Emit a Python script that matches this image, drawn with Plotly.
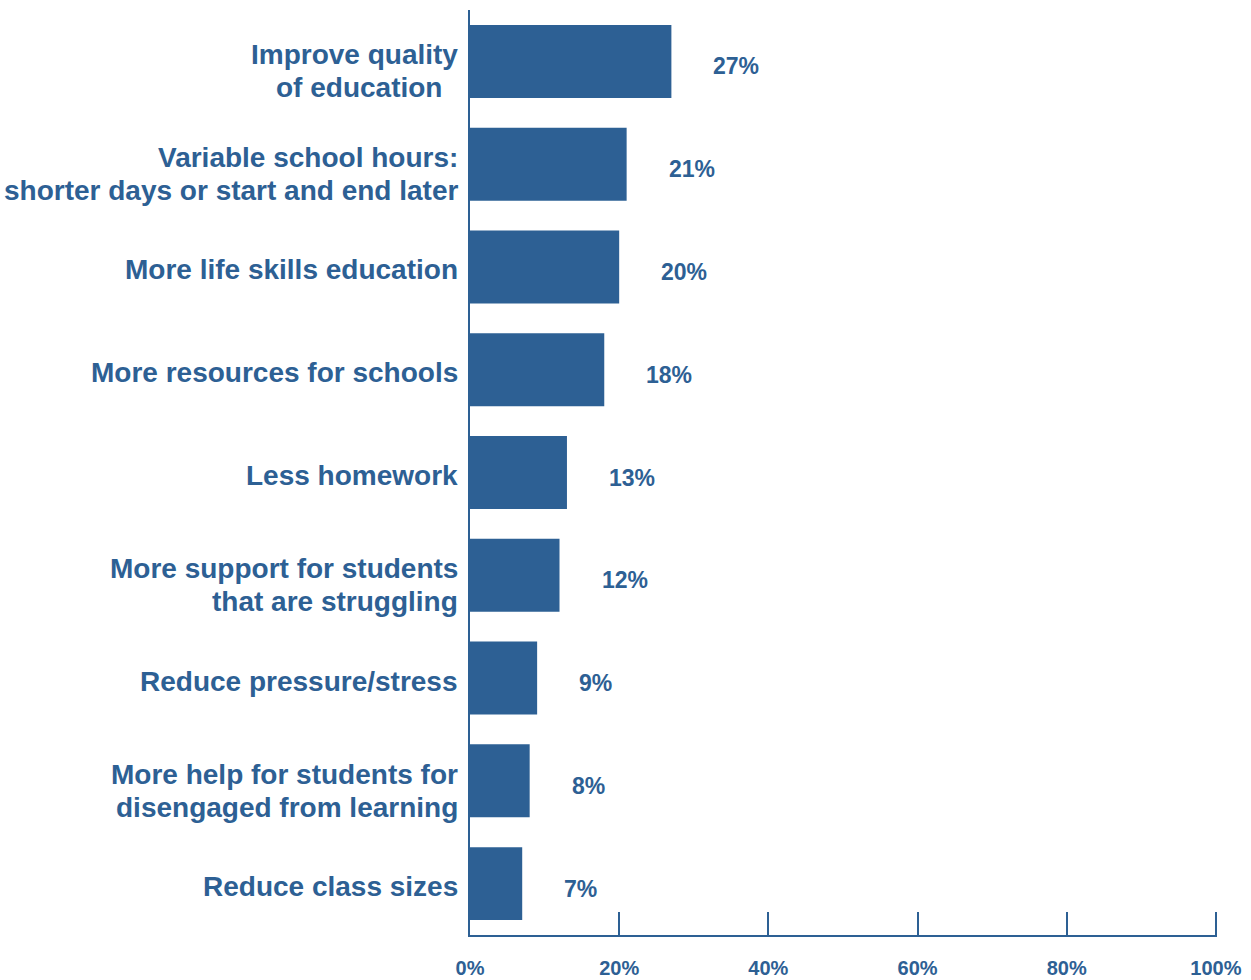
import plotly.graph_objects as go

categories = [
    "Improve quality<br>of education\u00a0\u00a0",
    "Variable school hours:<br>shorter days or start and end later",
    "More life skills education",
    "More resources for schools",
    "Less homework",
    "More support for students<br>that are struggling",
    "Reduce pressure/stress",
    "More help for students for<br>disengaged from learning",
    "Reduce class sizes",
]
values = [27, 21, 20, 18, 13, 12, 9, 8, 7]
tick_vals = [0, 20, 40, 60, 80, 100]
tick_text = ["0%", "20%", "40%", "60%", "80%", "100%"]

BLUE = "#2D6094"
FONT = "Liberation Sans, Arial, sans-serif"
LINE_GAP = 33  # px between lines of a wrapped category label

fig = go.Figure(
    go.Bar(
        x=values,
        y=categories,
        orientation="h",
        marker=dict(color=BLUE, line=dict(width=0)),
        hoverinfo="skip",
    )
)

# value labels to the right of each bar
for cat, val in zip(categories, values):
    fig.add_annotation(
        x=val, y=cat, text=f"<b>{val}%</b>", showarrow=False,
        xanchor="left", xshift=40, yshift=-5,
        font=dict(family=FONT, size=23, color=BLUE),
    )

# category labels, one annotation per line, right-aligned against the axis
for cat in categories:
    lines = cat.split("<br>")
    n = len(lines)
    base = -3 if n == 1 else -10
    for i, line in enumerate(lines):
        fig.add_annotation(
            x=0, xref="paper", y=cat, yref="y",
            text=f"<b>{line}</b>", showarrow=False,
            xanchor="right", yanchor="middle", xshift=-10,
            yshift=base + ((n - 1) / 2 - i) * LINE_GAP,
            font=dict(family=FONT, size=28, color=BLUE),
        )

fig.update_layout(
    width=1251, height=980,
    margin=dict(l=470, r=34, t=10, b=45, autoexpand=False),
    paper_bgcolor="white", plot_bgcolor="white",
    bargap=0.29,
    showlegend=False,
    font=dict(family=FONT, color=BLUE),
)
fig.update_xaxes(
    range=[0, 100.15], tickvals=tick_vals,
    ticktext=[f"<b>{t}</b>" for t in tick_text],
    ticks="inside", ticklen=23, tickwidth=2, tickcolor=BLUE,
    showline=True, linecolor=BLUE, linewidth=2,
    showgrid=False, zeroline=False, automargin=False,
    ticklabelstandoff=14,
    tickfont=dict(family=FONT, size=20, color=BLUE),
)
fig.update_yaxes(
    categoryorder="array", categoryarray=categories[::-1],
    showticklabels=False,
    ticks="", showline=True, linecolor=BLUE, linewidth=2,
    showgrid=False, zeroline=False, automargin=False,
)

fig.write_html("out.html")
